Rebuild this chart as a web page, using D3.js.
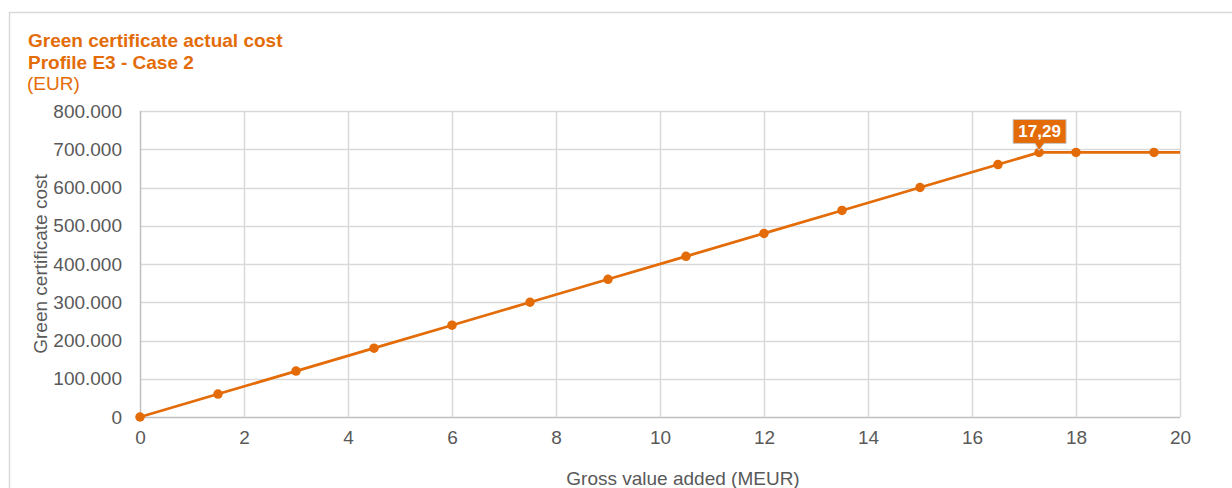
<!DOCTYPE html>
<html><head><meta charset="utf-8">
<script src="https://cdn.jsdelivr.net/npm/d3@7"></script>
<style>
html,body{margin:0;padding:0;background:#fff;}
svg{display:block;font-family:"Liberation Sans",Arial,sans-serif;}
</style></head>
<body>
<svg id="chart" width="1232" height="488"></svg>
<script>
const titleLines = ["Green certificate actual cost", "Profile E3 - Case 2"];
const unitLabel = "(EUR)";
const xValues = [0, 1.5, 3, 4.5, 6, 7.5, 9, 10.5, 12, 13.5, 15, 16.5, 17.29, 18, 19.5, 20];
const yValues = [0, 60000, 120000, 180000, 240000, 300000, 360000, 420000, 480000, 540000, 600000, 660000, 691600, 691600, 691600, 691600];
const showMarker = [1,1,1,1,1,1,1,1,1,1,1,1,1,1,1,0];
const xTicks = [0, 2, 4, 6, 8, 10, 12, 14, 16, 18, 20];
const yTicks = [0, 100000, 200000, 300000, 400000, 500000, 600000, 700000, 800000];
const annotationX = 17.29;
const annotationText = "17,29";
const xTitle = "Gross value added (MEUR)";
const yTitle = "Green certificate cost";

const orange = "#e36c09";
const grey = "#595959";
const fs = 19;
const svg = d3.select("#chart");
const W = 1232, H = 488;
const m = {left:140, right:52, top:111, bottom:71};
const x = d3.scaleLinear().domain([0,20]).range([m.left, W-m.right]);
const y = d3.scaleLinear().domain([0,800000]).range([H-m.bottom, m.top]);

// outer border
svg.append("rect").attr("x",9.5).attr("y",12.5).attr("width",1240).attr("height",500)
  .attr("fill","none").attr("stroke","#d9d9d9").attr("stroke-width",1.5);

// titles
const tg = svg.append("g");
titleLines.forEach((t,i)=>{
  tg.append("text").attr("x",28).attr("y",47+i*21.5).text(t)
    .attr("fill",orange).attr("font-size",fs).attr("font-weight","bold");
});
tg.append("text").attr("x",27).attr("y",89.5).text(unitLabel).attr("fill",orange).attr("font-size",fs);

const fmt = v => d3.format(",")(v).replace(/,/g,".");

// grid
const grid = svg.append("g");
grid.selectAll("line.h").data(yTicks).join("line")
  .attr("x1",x(0)).attr("x2",x(20)).attr("y1",d=>Math.round(y(d))+0.5).attr("y2",d=>Math.round(y(d))+0.5)
  .attr("stroke",d=>d===0?"#bfbfbf":"#d9d9d9").attr("stroke-width",1.5);
grid.selectAll("line.v").data(xTicks).join("line")
  .attr("y1",y(0)).attr("y2",y(800000)).attr("x1",d=>Math.round(x(d))+0.5).attr("x2",d=>Math.round(x(d))+0.5)
  .attr("stroke",d=>d===0?"#bfbfbf":"#d9d9d9").attr("stroke-width",1.5);

// axes via d3
const yAxis = svg.append("g").attr("transform",`translate(${x(0)-18},0)`)
  .call(d3.axisLeft(y).tickValues(yTicks).tickFormat(fmt).tickSize(0).tickPadding(0));
yAxis.select(".domain").remove();
yAxis.selectAll("text").attr("font-size",fs).attr("fill",grey).attr("font-family","Liberation Sans, Arial, sans-serif");

const xAxis = svg.append("g").attr("transform",`translate(0,${y(0)+13})`)
  .call(d3.axisBottom(x).tickValues(xTicks).tickFormat(d3.format("d")).tickSize(0).tickPadding(0));
xAxis.select(".domain").remove();
xAxis.selectAll("text").attr("font-size",fs).attr("fill",grey).attr("font-family","Liberation Sans, Arial, sans-serif");

// axis titles
svg.append("text").attr("x",(x(0)+x(20))/2 + 23).attr("y",485).attr("text-anchor","middle")
  .attr("font-size",fs).attr("fill",grey).text(xTitle);
svg.append("text").attr("transform",`translate(47,${(y(0)+y(800000))/2}) rotate(-90)`)
  .attr("text-anchor","middle").attr("font-size",fs).attr("fill",grey).text(yTitle);

// line
const data = xValues.map((v,i)=>({x:v,y:yValues[i],m:showMarker[i]}));
svg.append("path").datum(data)
  .attr("d",d3.line().x(d=>x(d.x)).y(d=>y(d.y)))
  .attr("fill","none").attr("stroke",orange).attr("stroke-width",2.75);
svg.selectAll("circle.pt").data(data.filter(d=>d.m)).join("circle")
  .attr("cx",d=>x(d.x)).attr("cy",d=>y(d.y)).attr("r",4.75).attr("fill",orange);

// annotation
const ai = xValues.indexOf(annotationX);
const ax = x(annotationX), ay = y(yValues[ai]);
const bw = 53, bh = 24;
const bx = ax - 26, by = ay - 33;
const ag = svg.append("g");
ag.append("path")
  .attr("d",`M${bx},${by} H${bx+bw} V${by+bh} H${ax+5} L${ax},${ay-2} L${ax-4},${by+bh} H${bx} Z`)
  .attr("fill",orange).attr("stroke","#c8c8c8").attr("stroke-width",1);
ag.append("text").attr("x",bx+bw/2).attr("y",by+18).attr("text-anchor","middle")
  .attr("fill","#fff").attr("font-weight","bold").attr("font-size",17).text(annotationText);
</script>
</body></html>
